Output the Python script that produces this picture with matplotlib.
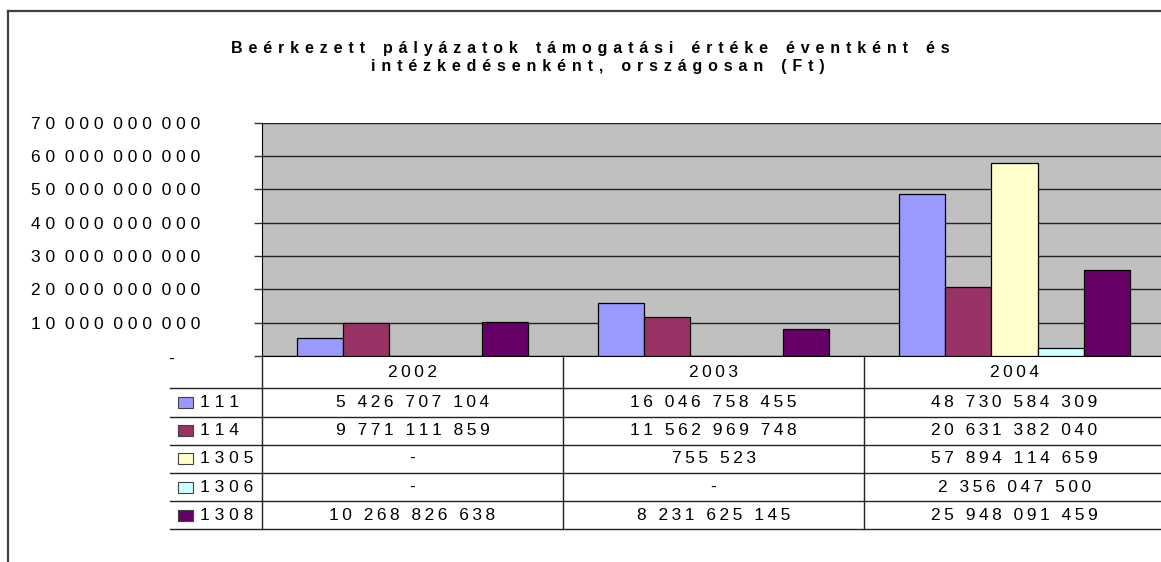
import matplotlib.pyplot as plt
import numpy as np
from matplotlib.patches import Rectangle
from matplotlib.transforms import ScaledTranslation

plt.rcParams['font.family'] = ['Liberation Sans', 'DejaVu Sans']

# data
years = ['2002', '2003', '2004']
series = ['111', '114', '1305', '1306', '1308']
v111 = [5426707104, 16046758455, 48730584309]
v114 = [9771111859, 11562969748, 20631382040]
v1305 = [None, 755523, 57894114659]
v1306 = [None, None, 2356047500]
v1308 = [10268826638, 8231625145, 25948091459]
values = [v111, v114, v1305, v1306, v1308]
colors = ['#9999FF', '#993366', '#FFFFCC', '#CCFFFF', '#660066']
yticks = [0, 10e9, 20e9, 30e9, 40e9, 50e9, 60e9, 70e9]
title = ['Beérkezett pályázatok támogatási értéke éventként és',
         'intézkedésenként, országosan (Ft)']

W, H = 1161, 562
PT = 72 / 100  # points per pixel


def spaced(s, sep=' ', gap='  '):
    # imitate the letter spacing of the original export
    return gap.join(sep.join(w) for w in s.split(' '))


def fmt(v):
    if v is None or v == 0:
        return '-'
    return f'{int(v):,}'.replace(',', ' ')


fig = plt.figure(figsize=(W / 100, H / 100), dpi=100)

# outer chart frame (top and left edges visible)
fig.add_artist(plt.Line2D([8 / W, 1], [1 - 11 / H, 1 - 11 / H], color='#404040', lw=1.6))
fig.add_artist(plt.Line2D([8 / W, 8 / W], [0, 1 - 11 / H], color='#404040', lw=1.6))

# title
tsep, tgap = ' \u200a', '    '
fig.text(590 / W, 1 - 48 / H, spaced(title[0], tsep, tgap), ha='center', va='center',
         fontsize=11.5, fontweight='bold')
fig.text(598 / W, 1 - 67 / H, spaced(title[1], tsep, tgap), ha='center', va='center',
         fontsize=11.5, fontweight='bold')

# main plot
x0, x1 = 262, 1165
ytop, ybot = 122.7, 356
ax = fig.add_axes([x0 / W, 1 - ybot / H, (x1 - x0) / W, (ybot - ytop) / H])
ax.set_facecolor('#C0C0C0')
ax.set_xlim(-0.5, 2.5)
ax.set_ylim(0, 70e9)

bw = 1 / 6.5
x = np.arange(len(years))
for i, (vals, c) in enumerate(zip(values, colors)):
    h = [0 if v is None else v for v in vals]
    ax.bar(x + (i - 2) * bw, h, width=bw, color=c, edgecolor='black', lw=0.9, zorder=3)

fs = 12.5
ax.set_yticks(yticks)
ax.set_yticklabels([spaced(fmt(v)) for v in yticks], fontsize=fs)
ax.tick_params(axis='y', length=8 * PT, width=1, pad=54 * PT, color='#333333')
ax.set_xticks([])
ax.yaxis.grid(True, color='#222222', lw=1)
ax.set_axisbelow(True)
for s in ['top', 'right']:
    ax.spines[s].set_visible(False)
ax.spines['left'].set_color('black')
ax.spines['bottom'].set_color('black')
lab0 = ax.get_yticklabels()[0]
lab0.set_transform(lab0.get_transform() + ScaledTranslation(-0.26, -0.02, fig.dpi_scale_trans))

# data table under the plot
hdr, rh = 32.3, 28.2
tb_h = hdr + rh * len(series)
tax = fig.add_axes([x0 / W, 1 - (ybot + tb_h) / H, (x1 - x0) / W, tb_h / H])
tax.set_xlim(-0.5, 2.5)
tax.set_ylim(tb_h, 0)
tax.axis('off')
lc = '#222222'
lab_left = -0.5 - 92 / 301
nsep, ngap = '\u2009', ' \u2009\u2009'
for k in range(len(series) + 1):
    yy = hdr + k * rh
    tax.plot([lab_left, 2.5], [yy, yy], color=lc, lw=1, clip_on=False)
for b in [-0.5, 0.5, 1.5]:
    tax.plot([b, b], [0, tb_h], color=lc, lw=1, clip_on=False)
for j, yr in enumerate(years):
    tax.text(j, hdr / 2, spaced(yr, nsep, ngap), ha='center', va='center', fontsize=fs)
for i, (name, vals, c) in enumerate(zip(series, values, colors)):
    yc = hdr + (i + 0.5) * rh
    tax.add_patch(Rectangle((lab_left + 8 / 301, yc - 5.5), 15 / 301, 11,
                            facecolor=c, edgecolor='#404040', lw=0.8, clip_on=False))
    tax.text(lab_left + 30 / 301, yc, spaced(name), ha='left', va='center', fontsize=fs)
    for j, v in enumerate(vals):
        tax.text(j, yc, spaced(fmt(v), nsep, ngap), ha='center', va='center', fontsize=fs)

fig.savefig('out.png', dpi=100)
